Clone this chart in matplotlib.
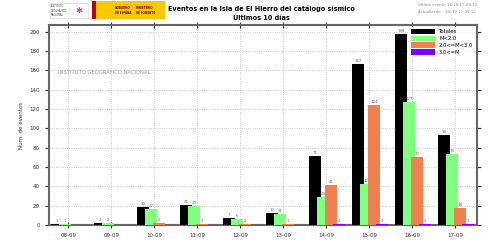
import matplotlib
matplotlib.use('Agg')
import matplotlib.pyplot as plt
from matplotlib.patches import Rectangle
import numpy as np

# daily counts
days = ['08-09', '09-09', '10-09', '11-09', '12-09', '13-09', '14-09', '15-09', '16-09', '17-09']
totales = [1, 2, 19, 21, 7, 12, 71, 167, 198, 93]
m_lt2 = [1, 2, 17, 20, 6, 11, 29, 42, 127, 74]
m_2_3 = [0, 0, 2, 1, 1, 1, 41, 124, 70, 18]
m_ge3 = [0, 0, 0, 0, 0, 0, 1, 1, 1, 1]

series = [
    ('Totales', totales, 'black'),
    ('M<2.0', m_lt2, '#80ff80'),
    ('2.0<=M<3.0', m_2_3, '#f08050'),
    ('3.0<=M', m_ge3, '#8000ff'),
]
offsets = [-0.27, -0.08, 0.11, 0.29]
width = 0.27

fig = plt.figure(figsize=(5, 2.5), dpi=100)
ax = fig.add_axes([0.098, 0.1, 0.856, 0.8])
x = np.arange(len(days))

for (name, vals, col), off in zip(series, offsets):
    ax.bar(x + off, vals, width=width, color=col, label=name, zorder=3)
    for xi, v in zip(x, vals):
        if v > 0:
            ax.text(xi + off, v + 1, str(v), fontsize=2.8, color='#666666',
                    ha='center', va='bottom', zorder=4)

ax.set_xlim(-0.45, 9.5)
ax.set_ylim(0, 207)
ax.set_yticks(range(0, 201, 20))
ax.set_xticks(x)
ax.set_xticklabels(days)
ax.tick_params(axis='both', labelsize=4, colors='#333333', length=3, width=0.8)
ax.tick_params(axis='x', direction='inout', top=True, length=5)
ax.tick_params(axis='y', direction='out', right=True)
ax.grid(True, linestyle=':', color='#bbbbbb', linewidth=0.6, zorder=0)
for s in ax.spines.values():
    s.set_color('#666666')
    s.set_linewidth(1.5)
ax.set_ylabel('Num. de eventos', fontsize=4, color='#333333', labelpad=4)

ax.text(0.02, 0.765, 'INSTITUTO GEOGRÁFICO NACIONAL', transform=ax.transAxes,
        fontsize=3.8, color='#999999', ha='left', va='center')

leg = ax.legend(loc='upper right', fontsize=3.8, frameon=True, fancybox=False,
                edgecolor='white', handlelength=4.5, handleheight=1.3,
                borderaxespad=0.3, labelspacing=0.2)
leg.get_frame().set_linewidth(0)

# header
fig.text(0.522, 0.966, 'Eventos en la Isla de El Hierro del catálogo sísmico',
         fontsize=4.7, fontweight='bold', ha='center', va='center')
fig.text(0.522, 0.928, 'Últimos 10 días', fontsize=4.7, fontweight='bold',
         ha='center', va='center')
fig.text(0.835, 0.978, 'Último evento 18:29 17-09-12', fontsize=2.8,
         color='#888888', ha='left', va='center')
fig.text(0.835, 0.952, 'Actualizado    18:39 17-09-12', fontsize=2.8,
         color='#888888', ha='left', va='center')

# logo placeholders
fig.patches.append(Rectangle((0.1, 0.93), 0.076, 0.06, transform=fig.transFigure,
                             facecolor='white', edgecolor='#cccccc', linewidth=0.4))
fig.text(0.102, 0.958, 'INSTITUTO\nGEOGRÁFICO\nNACIONAL', fontsize=1.8,
         color='#444444', va='center')
fig.text(0.157, 0.958, '✱', fontsize=6, color='#e040a0', ha='center', va='center')
fig.patches.append(Rectangle((0.183, 0.925), 0.146, 0.072, transform=fig.transFigure,
                             facecolor='#f5c800', edgecolor='none'))
fig.patches.append(Rectangle((0.183, 0.925), 0.008, 0.072, transform=fig.transFigure,
                             facecolor='#c00000', edgecolor='none'))
fig.text(0.23, 0.958, 'GOBIERNO\nDE ESPAÑA', fontsize=1.9, color='#8b0000',
         va='center', fontweight='bold')
fig.text(0.272, 0.958, 'MINISTERIO\nDE FOMENTO', fontsize=1.9, color='#8b0000',
         va='center', fontweight='bold')

fig.savefig('out.png', dpi=100)
